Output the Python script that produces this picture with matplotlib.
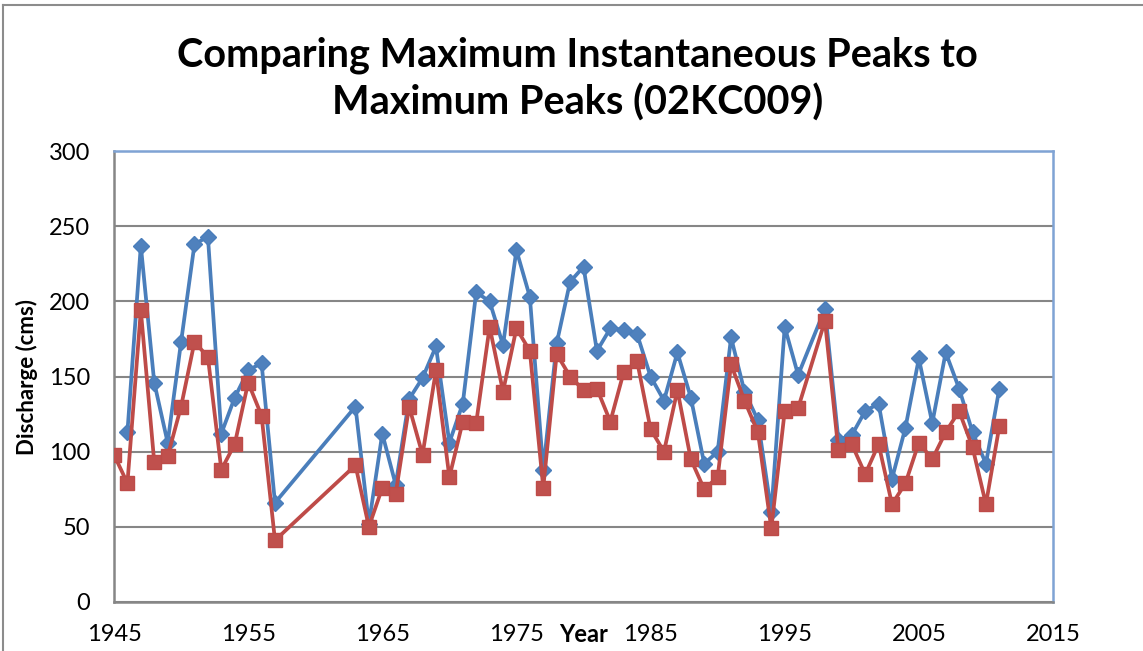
import matplotlib
matplotlib.use("Agg")
import matplotlib.pyplot as plt
from matplotlib.lines import Line2D

# Maximum peaks (red squares)
years_max = [1945, 1946, 1947, 1948, 1949, 1950, 1951, 1952, 1953, 1954, 1955, 1956, 1957,
             1963, 1964, 1965, 1966, 1967, 1968, 1969, 1970, 1971, 1972, 1973, 1974, 1975,
             1976, 1977, 1978, 1979, 1980, 1981, 1982, 1983, 1984, 1985, 1986, 1987, 1988,
             1989, 1990, 1991, 1992, 1993, 1994, 1995, 1996,
             1998, 1999, 2000, 2001, 2002, 2003, 2004, 2005, 2006, 2007, 2008, 2009, 2010, 2011]
peaks_max = [98, 79, 194, 93, 97, 130, 173, 163, 88, 105, 146, 124, 41,
             91, 50, 76, 72, 130, 98, 154, 83, 120, 119, 183, 140, 182,
             167, 76, 165, 150, 141, 142, 120, 153, 160, 115, 100, 141, 95,
             75, 83, 158, 134, 113, 49, 127, 129,
             187, 101, 105, 85, 105, 65, 79, 106, 95, 113, 127, 103, 65, 117]

# Maximum instantaneous peaks (blue diamonds)
years_inst = [1946, 1947, 1948, 1949, 1950, 1951, 1952, 1953, 1954, 1955, 1956, 1957,
              1963, 1964, 1965, 1966, 1967, 1968, 1969, 1970, 1971, 1972, 1973, 1974, 1975,
              1976, 1977, 1978, 1979, 1980, 1981, 1982, 1983, 1984, 1985, 1986, 1987, 1988,
              1989, 1990, 1991, 1992, 1993, 1994, 1995, 1996,
              1998, 1999, 2000, 2001, 2002, 2003, 2004, 2005, 2006, 2007, 2008, 2009, 2010, 2011]
peaks_inst = [113, 237, 146, 106, 173, 238, 243, 112, 136, 154, 159, 66,
              130, 52, 112, 78, 135, 149, 170, 106, 132, 206, 200, 171, 234,
              203, 88, 172, 213, 223, 167, 182, 181, 178, 150, 134, 166, 136,
              92, 100, 176, 140, 121, 60, 183, 151,
              195, 108, 111, 127, 132, 82, 116, 162, 119, 166, 142, 113, 92, 142]

x_ticks = [1945, 1955, 1965, 1975, 1985, 1995, 2005, 2015]
y_ticks = [0, 50, 100, 150, 200, 250, 300]

blue = '#4A7EBB'
red = '#BE4B48'
grid = '#868686'

plt.rcParams['font.family'] = ['Lato', 'DejaVu Sans']

fig = plt.figure(figsize=(11.43, 6.51), dpi=100)
ax = fig.add_axes([114 / 1143, 1 - 602 / 651, (1053 - 114) / 1143, (602 - 151) / 651])

ax.plot(years_inst, peaks_inst, color=blue, lw=2.7, marker='D', markersize=8,
        markerfacecolor='#4F81BD', markeredgecolor=blue, zorder=3)
ax.plot(years_max, peaks_max, color=red, lw=2.7, marker='s', markersize=10.5,
        markerfacecolor='#C0504D', markeredgecolor=red, zorder=4)

ax.set_xlim(1945, 2015)
ax.set_ylim(0, 300)
ax.set_xticks(x_ticks)
ax.set_yticks(y_ticks)
ax.tick_params(length=0, labelsize=17, colors='black')
ax.tick_params(axis='x', pad=16)
ax.tick_params(axis='y', pad=17)
ax.yaxis.grid(True, color=grid, lw=1.5)
ax.set_axisbelow(True)

for s in ['left', 'bottom']:
    ax.spines[s].set_color(grid)
    ax.spines[s].set_linewidth(1.8)
for s in ['top', 'right']:
    ax.spines[s].set_color('#7FA3D4')
    ax.spines[s].set_linewidth(1.8)

fig.text(27 / 1143, 1 - 377 / 651, 'Discharge (cms)', fontsize=16, fontweight='bold',
         rotation=90, ha='center', va='center')
fig.text(584 / 1143, 1 - 635 / 651, 'Year', fontsize=17, fontweight='bold',
         ha='center', va='center')

fig.text(0.505, 1 - 55 / 651, 'Comparing Maximum Instantaneous Peaks to',
         fontsize=28.5, fontweight='bold', ha='center', va='center')
fig.text(0.505, 1 - 103 / 651, 'Maximum Peaks (02KC009)',
         fontsize=28.5, fontweight='bold', ha='center', va='center')

# chart border (left and top edges visible)
fig.add_artist(Line2D([3 / 1143, 3 / 1143], [0, 1 - 5 / 651], transform=fig.transFigure,
                      color='#8C8C8C', lw=1.5))
fig.add_artist(Line2D([3 / 1143, 1], [1 - 5 / 651, 1 - 5 / 651], transform=fig.transFigure,
                      color='#8C8C8C', lw=1.5))

fig.savefig('out.png', dpi=100)
